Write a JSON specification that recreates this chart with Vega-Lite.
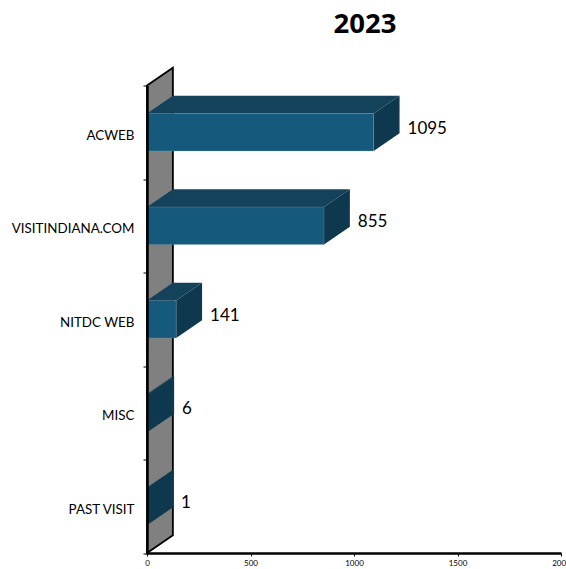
{
  "$schema": "https://vega.github.io/schema/vega-lite/v6.json",
  "width": 414,
  "height": 467.5,
  "autosize": "none",
  "padding": {"left": 147, "top": 85.5, "right": 5, "bottom": 15.5},
  "background": "white",
  "title": {"text": "2023", "anchor": "middle", "dx": 11, "offset": 26, "font": "Open Sans", "fontSize": 27.5, "fontWeight": "bold", "color": "black"},
  "config": {"view": {"stroke": null}},
  "datasets": {
    "sources": [
      {"category": "ACWEB", "value": 1095, "pos": 0},
      {"category": "VISITINDIANA.COM", "value": 855, "pos": 1},
      {"category": "NITDC WEB", "value": 141, "pos": 2},
      {"category": "MISC", "value": 6, "pos": 3},
      {"category": "PAST VISIT", "value": 1, "pos": 4}
    ]
  },
  "data": {"name": "sources"},
  "layer": [
    {
      "description": "Grey back wall of the 3D plot, sheared up and to the right",
      "transform": [
        {"aggregate": [{"op": "count", "as": "n"}]},
        {"calculate": "[0, 1]", "as": "step"},
        {"flatten": ["step"]},
        {"calculate": "125 * datum.step", "as": "wx"},
        {"calculate": "-0.19 * datum.step", "as": "wtop"},
        {"calculate": "datum.n - 0.19 * datum.step", "as": "wbot"}
      ],
      "mark": {"type": "area", "orient": "vertical", "fill": "#808080", "stroke": "black", "strokeWidth": 1.8},
      "encoding": {
        "x": {
          "field": "wx", "type": "quantitative", "stack": null,
          "scale": {"domain": [0, 2000], "nice": false},
          "axis": {
            "title": null, "values": [0, 500, 1000, 1500, 2000], "grid": false, "format": "d",
            "domainColor": "black", "domainWidth": 2.5, "tickColor": "black", "tickSize": 3, "tickWidth": 1,
            "labelFont": "Lato", "labelFontSize": 8, "labelColor": "black", "labelPadding": 3, "labelFlush": false, "labelOverlap": false, "zindex": 1
          }
        },
        "y": {
          "field": "wtop", "type": "quantitative", "stack": null,
          "scale": {"domain": [0, 5], "nice": false, "zero": false, "reverse": true},
          "axis": {
            "title": null, "values": [0, 0.5, 1, 1.5, 2, 2.5, 3, 3.5, 4, 4.5, 5], "grid": false,
            "labelExpr": "datum.value == 0.5 ? 'ACWEB' : datum.value == 1.5 ? 'VISITINDIANA.COM' : datum.value == 2.5 ? 'NITDC WEB' : datum.value == 3.5 ? 'MISC' : datum.value == 4.5 ? 'PAST VISIT' : ''",
            "domainColor": "black", "domainWidth": 2.5, "tickColor": "black", "tickSize": 4, "tickWidth": 1,
            "tickOpacity": {"condition": {"test": "datum.value % 1 != 0", "value": 0}, "value": 1},
            "labelFont": "Lato", "labelFontSize": 13.4, "labelColor": "black", "labelPadding": 9, "labelOffset": 3, "labelOverlap": false, "labelBound": false, "labelFlush": false, "zindex": 1
          }
        },
        "y2": {"field": "wbot"}
      }
    },
    {
      "description": "Top face of each bar",
      "transform": [
        {"calculate": "[0, 1]", "as": "step"},
        {"flatten": ["step"]},
        {"calculate": "125 * datum.step", "as": "xl"},
        {"calculate": "datum.value + 125 * datum.step", "as": "xr"},
        {"calculate": "datum.pos + 0.3 - 0.19 * datum.step", "as": "yy"}
      ],
      "mark": {"type": "area", "orient": "horizontal", "fill": "#15425B"},
      "encoding": {
        "x": {"field": "xl", "type": "quantitative", "stack": null},
        "x2": {"field": "xr"},
        "y": {"field": "yy", "type": "quantitative", "stack": null},
        "detail": {"field": "category"}
      }
    },
    {
      "description": "Right-hand side face of each bar",
      "transform": [
        {"calculate": "[0, 1]", "as": "step"},
        {"flatten": ["step"]},
        {"calculate": "datum.value + 125 * datum.step", "as": "xx"},
        {"calculate": "datum.pos + 0.3 - 0.19 * datum.step", "as": "yt"},
        {"calculate": "datum.pos + 0.7 - 0.19 * datum.step", "as": "yb"}
      ],
      "mark": {"type": "area", "orient": "vertical", "fill": "#0D384E"},
      "encoding": {
        "x": {"field": "xx", "type": "quantitative", "stack": null},
        "y": {"field": "yt", "type": "quantitative", "stack": null},
        "y2": {"field": "yb"},
        "detail": {"field": "category"}
      }
    },
    {
      "description": "Front face of each bar",
      "transform": [
        {"calculate": "datum.pos + 0.3", "as": "yt"},
        {"calculate": "datum.pos + 0.7", "as": "yb"}
      ],
      "mark": {"type": "rect", "fill": "#155A7C", "stroke": "#7FA0B4", "strokeWidth": 0.3},
      "encoding": {
        "x": {"field": "value", "type": "quantitative"},
        "x2": {"datum": 0},
        "y": {"field": "yt", "type": "quantitative"},
        "y2": {"field": "yb"}
      }
    },
    {
      "description": "Value labels to the right of each bar",
      "transform": [
        {"calculate": "datum.value + 125", "as": "tip"},
        {"calculate": "datum.pos + 0.5", "as": "mid"}
      ],
      "mark": {"type": "text", "align": "left", "baseline": "middle", "dx": 8, "dy": -3.5, "font": "Lato", "fontSize": 17, "fill": "black"},
      "encoding": {
        "x": {"field": "tip", "type": "quantitative"},
        "y": {"field": "mid", "type": "quantitative"},
        "text": {"field": "value", "type": "quantitative", "format": "d"}
      }
    }
  ]
}
